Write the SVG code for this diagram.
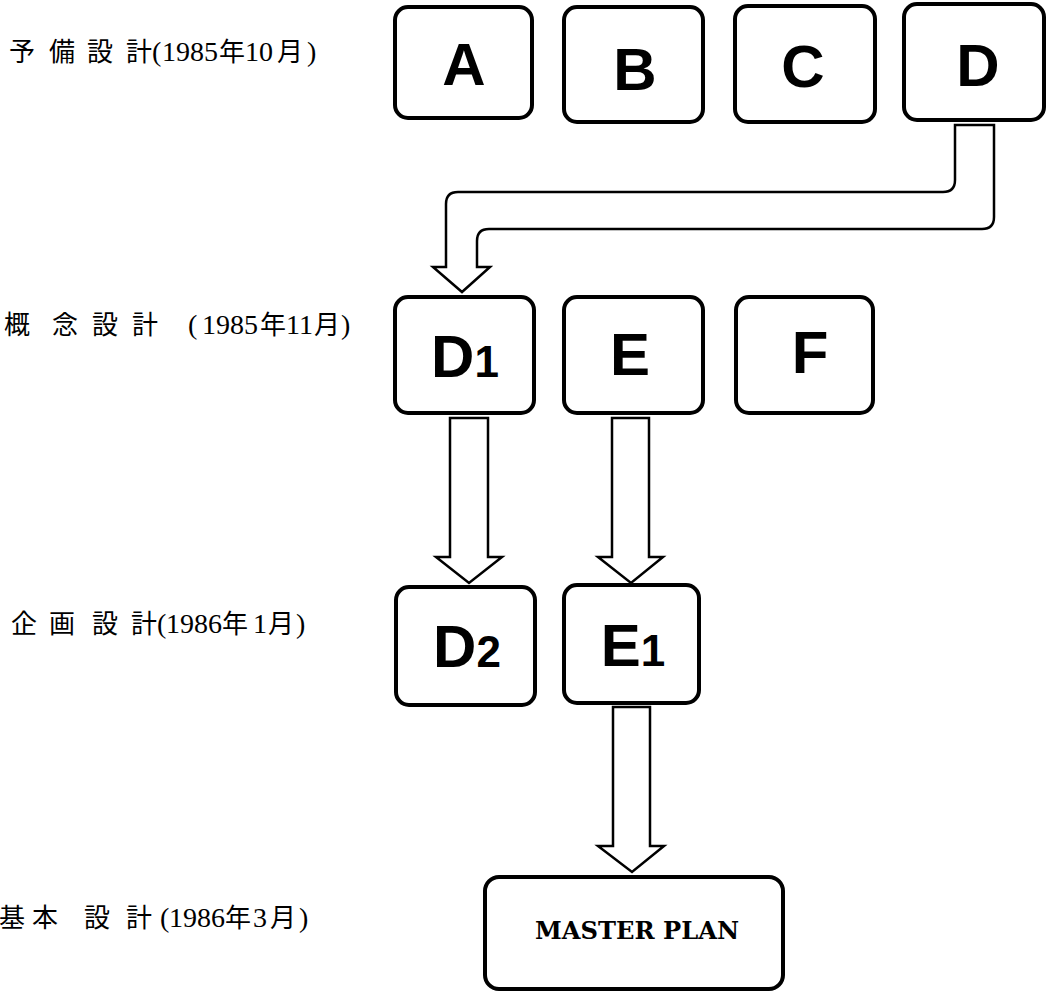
<svg xmlns="http://www.w3.org/2000/svg" width="1046" height="992" viewBox="0 0 1046 992">
<style>
.box{fill:#fff;stroke:#000;stroke-width:4}
.lbl{font-family:"Liberation Sans",Arial,sans-serif;font-weight:bold;font-size:60px;text-anchor:middle;fill:#000}
.sub{font-size:44px}
.arr{fill:#fff;stroke:#000;stroke-width:2.5;stroke-linejoin:miter}
.jp{font-family:"Noto Sans CJK JP","Noto Sans CJK SC",sans-serif;font-size:26px;fill:#000}
.num{font-family:"Liberation Serif","Times New Roman",serif;font-size:28px}
.mp{font-family:"DejaVu Serif","Liberation Serif",serif;font-weight:bold;font-size:24px;fill:#000}
</style>
<rect width="1046" height="992" fill="#fff"/>

<g id="stage-labels">
<text class="jp" y="61"><tspan x="9">予</tspan><tspan x="49">備</tspan><tspan x="87">設</tspan><tspan x="126">計</tspan><tspan class="num" x="152">(</tspan><tspan class="num" x="162">1985</tspan><tspan x="219">年</tspan><tspan class="num" x="245">10</tspan><tspan x="277">月</tspan><tspan class="num" x="307">)</tspan></text>
<text class="jp" y="334"><tspan x="4">概</tspan><tspan x="52">念</tspan><tspan x="92">設</tspan><tspan x="132">計</tspan><tspan class="num" x="188">(</tspan><tspan class="num" x="202">1985</tspan><tspan x="260">年</tspan><tspan class="num" x="286">11</tspan><tspan x="314">月</tspan><tspan class="num" x="341">)</tspan></text>
<text class="jp" y="633"><tspan x="11">企</tspan><tspan x="49">画</tspan><tspan x="92">設</tspan><tspan x="131">計</tspan><tspan class="num" x="157">(</tspan><tspan class="num" x="166">1986</tspan><tspan x="222">年</tspan><tspan class="num" x="253">1</tspan><tspan x="268">月</tspan><tspan class="num" x="296">)</tspan></text>
<text class="jp" y="927"><tspan x="-1">基</tspan><tspan x="32">本</tspan><tspan x="84">設</tspan><tspan x="126">計</tspan><tspan class="num" x="160">(</tspan><tspan class="num" x="169">1986</tspan><tspan x="225">年</tspan><tspan class="num" x="253">3</tspan><tspan x="270">月</tspan><tspan class="num" x="299">)</tspan></text>
</g>

<g id="connectors">
<path class="arr" d="M955,125 L955,180 Q955,192 943,192 L458,192 Q446,192 446,204 L446,267 L433,267 L462,292 L490,267 L477,267 L477,241 Q477,229 489,229 L982,229 Q994,229 994,217 L994,125 Z"/>
<path class="arr" d="M450,418 L488,418 L488,557 L502,557 L469,583 L436,557 L450,557 Z"/>
<path class="arr" d="M612,418 L649,418 L649,557 L663,557 L631,583 L598,557 L612,557 Z"/>
<path class="arr" d="M613,707 L650,707 L650,846 L664,846 L632,872 L598,846 L613,846 Z"/>
</g>

<g id="node-A"><rect class="box" x="395" y="7" width="137" height="111" rx="13"/><text class="lbl" x="464" y="85">A</text></g>
<g id="node-B"><rect class="box" x="564" y="7" width="139" height="115" rx="13"/><text class="lbl" x="635" y="90">B</text></g>
<g id="node-C"><rect class="box" x="735" y="6" width="140" height="116" rx="13"/><text class="lbl" x="803" y="87">C</text></g>
<g id="node-D"><rect class="box" x="904" y="4" width="140" height="116" rx="13"/><text class="lbl" x="978" y="86">D</text></g>

<g id="node-D1"><rect class="box" x="395" y="297" width="139" height="116" rx="13"/><text class="lbl" x="465" y="377">D<tspan class="sub">1</tspan></text></g>
<g id="node-E"><rect class="box" x="564" y="297" width="139" height="116" rx="13"/><text class="lbl" x="630" y="375">E</text></g>
<g id="node-F"><rect class="box" x="736" y="297" width="137" height="116" rx="13"/><text class="lbl" x="810" y="373">F</text></g>

<g id="node-D2"><rect class="box" x="396" y="587" width="139" height="118" rx="13"/><text class="lbl" x="467" y="667">D<tspan class="sub">2</tspan></text></g>
<g id="node-E1"><rect class="box" x="564" y="585" width="135" height="118" rx="13"/><text class="lbl" x="633" y="666">E<tspan class="sub">1</tspan></text></g>

<g id="node-master"><rect class="box" x="485" y="877" width="298" height="112" rx="14"/><text class="mp" x="535" y="939" textLength="204" lengthAdjust="spacingAndGlyphs">MASTER PLAN</text></g>
</svg>
